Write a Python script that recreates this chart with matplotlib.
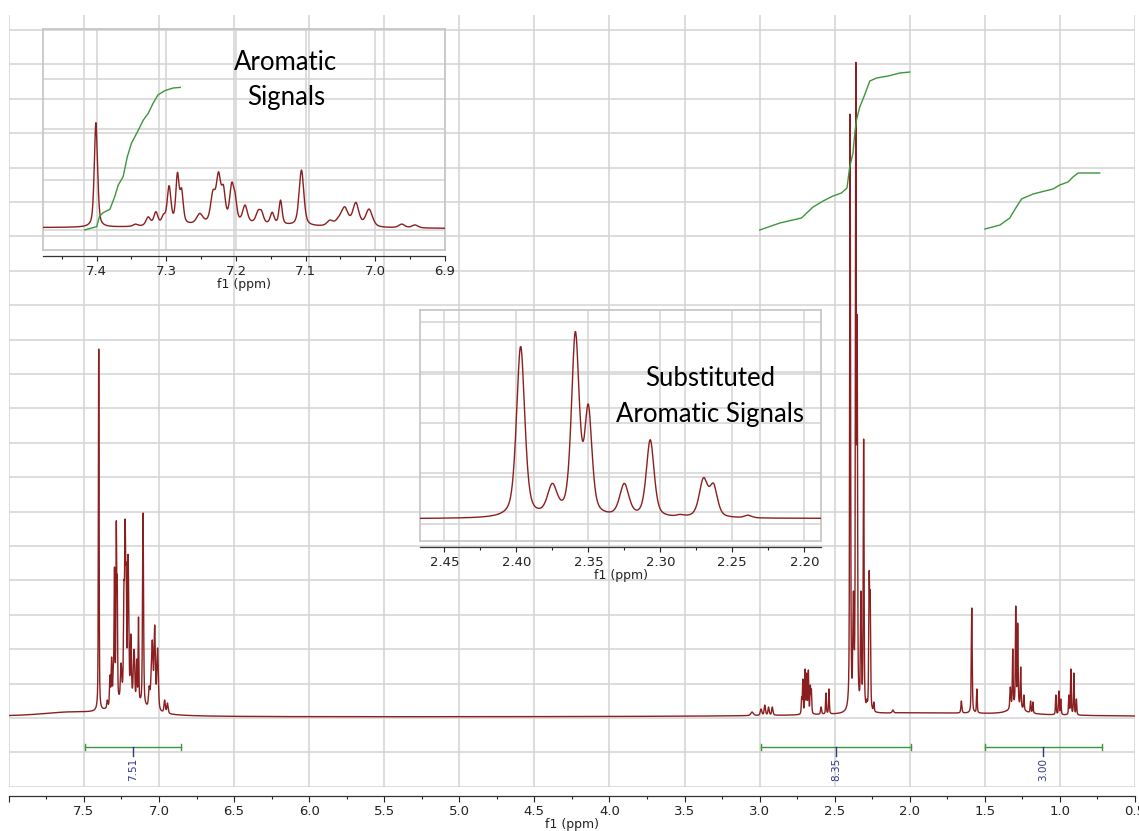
import numpy as np
import matplotlib.pyplot as plt
from matplotlib.ticker import MultipleLocator, FuncFormatter

W, H = 1139, 831

# peak table: shift (ppm), apparent height above baseline, half width (ppm)
arom_ppm = [7.401, 7.344, 7.326, 7.315, 7.304, 7.296, 7.284, 7.278, 7.252, 7.233,
            7.225, 7.218, 7.206, 7.201, 7.187, 7.168, 7.163, 7.148, 7.136, 7.106,
            7.065, 7.053, 7.044, 7.028, 7.009, 6.962, 6.943]
arom_height = [368, 17, 42, 60, 52, 150, 196, 141, 54, 135,
               198, 152, 162, 123, 83, 66, 63, 58, 100, 204,
               31, 42, 77, 92, 69, 17, 14]
arom_hw = [0.0028, 0.004, 0.0038, 0.0035, 0.0032, 0.0032, 0.0028, 0.0028, 0.0052, 0.004,
           0.0038, 0.0032, 0.0036, 0.0028, 0.004, 0.004, 0.0032, 0.0032, 0.0026, 0.004,
           0.0052, 0.0052, 0.0058, 0.0052, 0.0058, 0.0052, 0.0052]

ali_ppm = [3.05, 2.99, 2.965, 2.94, 2.915, 2.72, 2.712, 2.697, 2.686, 2.675, 2.662, 2.655,
           2.59, 2.558, 2.538,
           2.397, 2.375, 2.359, 2.350, 2.325, 2.307, 2.286, 2.270, 2.263, 2.239,
           2.112, 1.656, 1.587, 1.553, 1.33, 1.314, 1.294, 1.281, 1.261, 1.24,
           1.195, 1.18, 1.027, 1.007, 0.994, 0.94, 0.927, 0.907, 0.89]
ali_height = [5, 8, 12, 10, 10, 20, 38, 48, 44, 47, 32, 28,
              10, 24, 28,
              603, 126, 655, 402, 126, 278, 18, 146, 126, 15,
              7, 16, 109, 28, 30, 68, 111, 94, 50, 22,
              16, 15, 22, 26, 18, 22, 48, 44, 18]
ali_hw = [0.01, 0.006, 0.005, 0.005, 0.005, 0.003, 0.003, 0.003, 0.003, 0.003, 0.003, 0.003,
          0.004, 0.003, 0.003,
          0.0034, 0.004, 0.0032, 0.003, 0.0038, 0.0032, 0.003, 0.0035, 0.0032, 0.003,
          0.006, 0.004, 0.0035, 0.003, 0.004, 0.003, 0.003, 0.003, 0.003, 0.003,
          0.003, 0.003, 0.003, 0.003, 0.003, 0.003, 0.003, 0.003, 0.003]

# broad baseline humps: centre (ppm), amplitude, half width
hump_ppm = [7.6, 7.2, 1.9, 1.29]
hump_amp = [4, 16, 4, 8]
hump_hw = [0.25, 0.1, 0.8, 0.05]

# integral curves (green)
int1_ppm = [2.999, 2.865, 2.721, 2.644, 2.577, 2.511, 2.455, 2.418, 2.400, 2.378,
            2.366, 2.355, 2.333, 2.306, 2.288, 2.266, 2.221, 2.144, 2.066, 1.999]
int1_val = [487, 494, 499, 510, 516, 521, 524, 529, 550, 564,
            584, 597, 610, 620, 627, 636, 639, 641, 644, 645]
int2_ppm = [1.499, 1.399, 1.334, 1.294, 1.256, 1.179, 1.046, 1.001, 0.946, 0.913, 0.879, 0.735]
int2_val = [488, 492, 499, 509, 518, 523, 528, 532, 535, 540, 544, 544]
arom_int_ppm = [7.417, 7.400, 7.396, 7.391, 7.381, 7.374, 7.369, 7.362, 7.356,
                7.350, 7.340, 7.333, 7.326, 7.319, 7.312, 7.302, 7.290, 7.280]
arom_int_val = [-3, 8, 43, 56, 68, 112, 152, 181, 250,
                297, 343, 377, 400, 435, 464, 479, 488, 490]

# integration bars
bar_start = [7.49, 2.99, 1.50]
bar_end = [6.85, 1.99, 0.72]
bar_label = ['7.51', '8.35', '3.00']

RED = '#8b1f1f'
GREEN = '#3c963c'
NAVY = '#34348a'
GRID = '#d3d3d3'
FRAME = '#c4c4c4'
TXT = '#222222'


def line_shape(x, x0, hw):
    u = (x - x0) / hw
    return 0.5 / (1 + u ** 2) + 0.5 * np.exp(-np.log(2) * u ** 2)


def baseline(x):
    out = np.zeros_like(x, dtype=float)
    for c, a, w in zip(hump_ppm, hump_amp, hump_hw):
        out += a / (1 + ((x - c) / w) ** 2)
    return out


p = np.array(arom_ppm + ali_ppm)
h = np.array(arom_height + ali_height, dtype=float)
w = np.array(arom_hw + ali_hw)
A = line_shape(p[:, None], p[None, :], w[None, :])
amps = np.linalg.lstsq(A, h - baseline(p), rcond=None)[0].clip(0)

shift = np.linspace(0.5, 8.0, 40001)
spec = baseline(shift) + line_shape(shift[:, None], p[None, :], w[None, :]) @ amps

fig = plt.figure(figsize=(W / 100, H / 100), dpi=100)


def px_axes(left, top, right, bottom):
    return fig.add_axes([left / W, 1 - bottom / H, (right - left) / W, (bottom - top) / H])


# ---- main spectrum
ax = px_axes(8.8, 15, 1135, 787)
ax.set_xlim(8.0, 0.5)
ax.set_ylim(-70, 702)
ax.plot(shift, spec, color=RED, lw=1.0, zorder=3)
ax.plot(int1_ppm, int1_val, color=GREEN, lw=1.0, zorder=3)
ax.plot(int2_ppm, int2_val, color=GREEN, lw=1.0, zorder=3)

for s, e, lab in zip(bar_start, bar_end, bar_label):
    mid = (s + e) / 2
    ax.plot([s, e], [-30, -30], color=GREEN, lw=1.0, zorder=3)
    ax.plot([s, s], [-33, -27], color=GREEN, lw=1.0, zorder=3)
    ax.plot([e, e], [-33, -27], color=GREEN, lw=1.0, zorder=3)
    ax.plot([mid, mid], [-30, -39], color=NAVY, lw=1.0, zorder=3)
    ax.text(mid, -41, lab, rotation=90, ha='center', va='top', color=NAVY, fontsize=7.5)

ax.xaxis.set_major_locator(MultipleLocator(0.5))
ax.xaxis.set_minor_locator(MultipleLocator(0.25))
ax.xaxis.set_major_formatter(FuncFormatter(lambda v, _: '' if v > 7.9 else f'{v:.1f}'))
ax.set_yticks(np.arange(687, -71, -34.4))
ax.tick_params(axis='y', left=False, labelleft=False)
ax.tick_params(axis='x', which='major', direction='out', length=4, width=0.8,
               pad=2.5, labelsize=9.5, colors=TXT)
ax.tick_params(axis='x', which='minor', direction='out', length=2.5, width=0.8, colors=TXT)
ax.grid(True, color=GRID, lw=1.1, zorder=0)
for side in ['top', 'left', 'right']:
    ax.spines[side].set_visible(False)
ax.spines['bottom'].set_position(('outward', 6.5))
ax.spines['bottom'].set_color('#333333')
ax.spines['bottom'].set_linewidth(0.9)
ax.set_xlabel('f1 (ppm)', fontsize=9, color=TXT, labelpad=0)


def style_inset(axi, xlim, ylim, major, minor, grid_y):
    axi.set_facecolor('none')
    axi.set_xlim(*xlim)
    axi.set_ylim(*ylim)
    axi.xaxis.set_major_locator(MultipleLocator(major))
    axi.xaxis.set_minor_locator(MultipleLocator(minor))
    axi.xaxis.set_major_formatter(FuncFormatter(lambda v, _: f'{v:.2f}' if major < 0.1 else f'{v:.1f}'))
    axi.set_yticks(grid_y)
    axi.tick_params(axis='y', left=False, labelleft=False)
    axi.tick_params(axis='x', which='major', direction='out', length=3.5, width=0.8,
                    pad=2.5, labelsize=9.5, colors=TXT)
    axi.tick_params(axis='x', which='minor', direction='out', length=2.5, width=0.8, colors=TXT)
    axi.grid(True, color=GRID, lw=1.1, zorder=0)
    for side in ['top', 'left', 'right']:
        axi.spines[side].set_color(FRAME)
        axi.spines[side].set_linewidth(1.2)
    axi.spines['bottom'].set_position(('outward', 4.5))
    axi.spines['bottom'].set_color('#333333')
    axi.spines['bottom'].set_linewidth(0.9)
    axi.axhline(ylim[0], color=FRAME, lw=1.2, clip_on=False)
    axi.set_xlabel('f1 (ppm)', fontsize=9, color=TXT, labelpad=0)


# ---- aromatic inset
ax1 = px_axes(43, 28.5, 445, 250)
ax1.plot(shift, spec, color=RED, lw=1.0, zorder=3)
ax1.plot(arom_int_ppm, arom_int_val, color=GREEN, lw=1.0, zorder=3)
style_inset(ax1, (7.477, 6.9), (-72.7, 693.8), 0.1, 0.05, [693.8, 519, 344.3, 169.6, -5.2])

# ---- substituted aromatic inset
ax2 = px_axes(420, 310, 821, 541)
ax2.plot(shift, spec, color=RED, lw=1.0, zorder=3)
style_inset(ax2, (2.4669, 2.1884), (-74.9, 730), 0.05, 0.025, [689.2, 513.2, 337.3, 161.3, -14.6])

fig.text(286 / W, 1 - 80 / H, 'Aromatic\nSignals', ha='center', va='center',
         fontsize=18.5, family='Lato', linespacing=1.55, color='black')
fig.text(710 / W, 1 - 396.5 / H, 'Substituted\nAromatic Signals', ha='center', va='center',
         fontsize=18.5, family='Lato', linespacing=1.55, color='black')

fig.savefig('out.png', dpi=100)
